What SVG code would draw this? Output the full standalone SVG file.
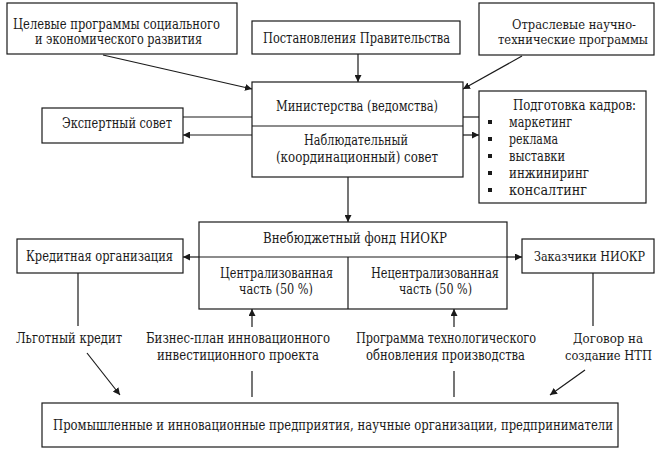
<svg xmlns="http://www.w3.org/2000/svg" width="661" height="455" viewBox="0 0 661 455">
<style>
.box{fill:#fff;stroke:#1a1a1a;stroke-width:1.2}
.ln{fill:none;stroke:#1a1a1a;stroke-width:1.2}
.t{font-family:"DejaVu Serif Condensed","DejaVu Serif",serif;font-stretch:condensed;font-size:14px;fill:#1a1a1a;text-anchor:middle}
.s{font-size:13px}
.l{text-anchor:start}
.b{fill:#1a1a1a}
</style>
<defs>
<marker id="ah" viewBox="0 0 10 10" refX="10" refY="5" markerWidth="7" markerHeight="7" markerUnits="userSpaceOnUse" orient="auto">
<path d="M0,0 L10,5 L0,10 z" fill="#1a1a1a"/>
</marker>
</defs>
<rect width="661" height="455" fill="#fff"/>

<g id="connectors">
<line class="ln" x1="103" y1="55" x2="252" y2="89" marker-end="url(#ah)"/>
<line class="ln" x1="358" y1="54" x2="358" y2="82" marker-end="url(#ah)"/>
<line class="ln" x1="522" y1="56" x2="463" y2="89" marker-end="url(#ah)"/>
<line class="ln" x1="183" y1="117" x2="252" y2="117"/>
<line class="ln" x1="252" y1="135" x2="183" y2="135" marker-end="url(#ah)"/>
<line class="ln" x1="463" y1="117" x2="479" y2="117"/>
<line class="ln" x1="463" y1="135" x2="479" y2="135" marker-end="url(#ah)"/>
<line class="ln" x1="348" y1="177" x2="348" y2="222" marker-end="url(#ah)"/>
<line class="ln" x1="199" y1="257" x2="183" y2="257" marker-end="url(#ah)"/>
<line class="ln" x1="507" y1="257" x2="522" y2="257" marker-end="url(#ah)"/>
<line class="ln" x1="78" y1="273" x2="78" y2="326"/>
<line class="ln" x1="593" y1="273" x2="593" y2="326"/>
<line class="ln" x1="252" y1="327" x2="252" y2="309" marker-end="url(#ah)"/>
<line class="ln" x1="454" y1="327" x2="454" y2="309" marker-end="url(#ah)"/>
<line class="ln" x1="252" y1="371" x2="252" y2="397"/>
<line class="ln" x1="454" y1="371" x2="454" y2="397"/>
<line class="ln" x1="87" y1="353" x2="120" y2="395" marker-end="url(#ah)"/>
<line class="ln" x1="585" y1="370" x2="550" y2="395" marker-end="url(#ah)"/>
</g>

<g id="target-programs">
<rect class="box" x="7" y="3" width="230" height="51"/>
<text class="t" x="116.5" y="29" textLength="207" lengthAdjust="spacingAndGlyphs">Целевые программы социального</text>
<text class="t" x="118.5" y="44" textLength="167" lengthAdjust="spacingAndGlyphs">и экономического развития</text>
</g>

<g id="government">
<rect class="box" x="252" y="21" width="208" height="33"/>
<text class="t" x="356.5" y="43" textLength="187" lengthAdjust="spacingAndGlyphs">Постановления Правительства</text>
</g>

<g id="sector-programs">
<rect class="box" x="479" y="3" width="175" height="52"/>
<text class="t s" x="574" y="29" textLength="124" lengthAdjust="spacingAndGlyphs">Отраслевые научно-</text>
<text class="t s" x="573" y="44" textLength="150" lengthAdjust="spacingAndGlyphs">технические программы</text>
</g>

<g id="ministry">
<rect class="box" x="252" y="82" width="211" height="95"/>
<line class="ln" x1="252" y1="126" x2="463" y2="126"/>
<text class="t" x="357" y="111" textLength="162" lengthAdjust="spacingAndGlyphs">Министерства (ведомства)</text>
<text class="t" x="356" y="145" textLength="104" lengthAdjust="spacingAndGlyphs">Наблюдательный</text>
<text class="t" x="357" y="162" textLength="162" lengthAdjust="spacingAndGlyphs">(координационный) совет</text>
</g>

<g id="expert-council">
<rect class="box" x="42" y="108" width="141" height="35"/>
<text class="t" x="117" y="128" textLength="110" lengthAdjust="spacingAndGlyphs">Экспертный совет</text>
</g>

<g id="training">
<rect class="box" x="479" y="91" width="167" height="112"/>
<text class="t" x="574.5" y="110" textLength="123" lengthAdjust="spacingAndGlyphs">Подготовка кадров:</text>
<rect class="b" x="488" y="120" width="4" height="4"/>
<rect class="b" x="488" y="137" width="4" height="4"/>
<rect class="b" x="488" y="154" width="4" height="4"/>
<rect class="b" x="488" y="171" width="4" height="4"/>
<rect class="b" x="488" y="188" width="4" height="4"/>
<text class="t l" x="509" y="127" textLength="63" lengthAdjust="spacingAndGlyphs">маркетинг</text>
<text class="t l" x="509" y="144" textLength="49" lengthAdjust="spacingAndGlyphs">реклама</text>
<text class="t l" x="509" y="161" textLength="56" lengthAdjust="spacingAndGlyphs">выставки</text>
<text class="t l" x="509" y="178" textLength="80" lengthAdjust="spacingAndGlyphs">инжиниринг</text>
<text class="t l" x="509" y="195" textLength="78" lengthAdjust="spacingAndGlyphs">консалтинг</text>
</g>

<g id="fund">
<rect class="box" x="199" y="222" width="308" height="87"/>
<line class="ln" x1="199" y1="257" x2="507" y2="257"/>
<line class="ln" x1="348" y1="257" x2="348" y2="309"/>
<text class="t" x="355" y="243" textLength="184" lengthAdjust="spacingAndGlyphs">Внебюджетный фонд НИОКР</text>
<text class="t" x="276.5" y="278" textLength="113" lengthAdjust="spacingAndGlyphs">Централизованная</text>
<text class="t" x="276" y="294" textLength="74" lengthAdjust="spacingAndGlyphs">часть (50 %)</text>
<text class="t" x="435" y="278" textLength="128" lengthAdjust="spacingAndGlyphs">Нецентрализованная</text>
<text class="t" x="435.5" y="294" textLength="73" lengthAdjust="spacingAndGlyphs">часть (50 %)</text>
</g>

<g id="credit-org">
<rect class="box" x="17" y="239" width="166" height="34"/>
<text class="t" x="99.5" y="261" textLength="147" lengthAdjust="spacingAndGlyphs">Кредитная организация</text>
</g>

<g id="customers">
<rect class="box" x="522" y="239" width="132" height="34"/>
<text class="t s" x="589.5" y="261" textLength="111" lengthAdjust="spacingAndGlyphs">Заказчики НИОКР</text>
</g>

<g id="labels">
<text class="t" x="69" y="343" textLength="106" lengthAdjust="spacingAndGlyphs">Льготный кредит</text>
<text class="t" x="238" y="343" textLength="184" lengthAdjust="spacingAndGlyphs">Бизнес-план инновационного</text>
<text class="t" x="238" y="360" textLength="162" lengthAdjust="spacingAndGlyphs">инвестиционного проекта</text>
<text class="t" x="446" y="343" textLength="180" lengthAdjust="spacingAndGlyphs">Программа технологического</text>
<text class="t" x="445.5" y="360" textLength="159" lengthAdjust="spacingAndGlyphs">обновления производства</text>
<text class="t s" x="608" y="343" textLength="70" lengthAdjust="spacingAndGlyphs">Договор на</text>
<text class="t s" x="608.5" y="360" textLength="87" lengthAdjust="spacingAndGlyphs">создание НТП</text>
</g>

<g id="enterprises">
<rect class="box" x="42" y="403" width="576" height="44"/>
<text class="t" x="333" y="430" textLength="560" lengthAdjust="spacingAndGlyphs">Промышленные и инновационные предприятия, научные организации, предприниматели</text>
</g>
</svg>
